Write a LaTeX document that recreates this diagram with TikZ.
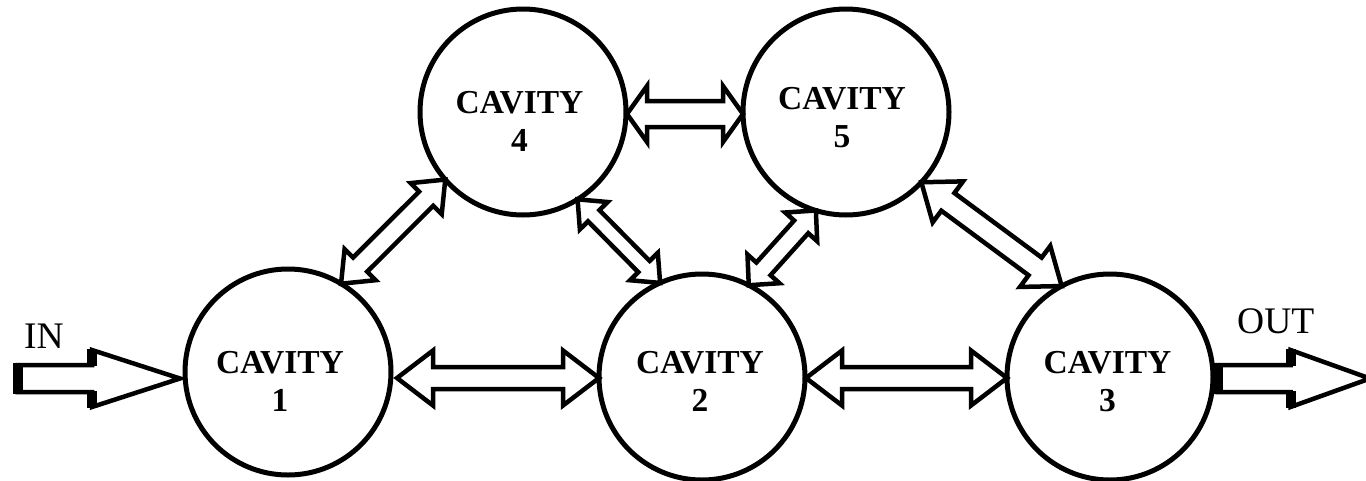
\documentclass[tikz,border=0pt]{standalone}
\usepackage{fontspec}
\setmainfont{Liberation Serif}
\usetikzlibrary{calc}
\tikzset{
  cav/.style={circle, draw, line width=5pt, minimum size=206pt, inner sep=0pt, outer sep=0pt},
  cavtext/.style={font=\bfseries\fontsize{33.5}{38}\selectfont, align=center, inner sep=0pt},
  iolabel/.style={font=\fontsize{37.5}{40}\selectfont, inner sep=0pt, anchor=base west},
  arrbody/.style={draw, fill=white, line width=4.5pt, line join=miter, miter limit=20},
  arrbar/.style={line width=10pt},
}
% #1,#2 tips; #3 shaft half-width; #4 head half-width; #5 head length
\newcommand\blockdbl[5]{%
  \draw[arrbody] (#1)
    -- ($(#1)!#5pt!(#2)!#4pt!90:(#2)$)
    -- ($(#1)!#5pt!(#2)!#3pt!90:(#2)$)
    -- ($(#2)!#5pt!(#1)!#3pt!-90:(#1)$)
    -- ($(#2)!#5pt!(#1)!#4pt!-90:(#1)$)
    -- (#2)
    -- ($(#2)!#5pt!(#1)!#4pt!90:(#1)$)
    -- ($(#2)!#5pt!(#1)!#3pt!90:(#1)$)
    -- ($(#1)!#5pt!(#2)!#3pt!-90:(#2)$)
    -- ($(#1)!#5pt!(#2)!#4pt!-90:(#2)$)
    -- cycle;}
% #1 tail, #2 tip
\newcommand\blocksingle[5]{%
  \draw[arrbody] ($(#1)!#3pt!90:(#2)$)
    -- ($(#2)!#5pt!(#1)!#3pt!-90:(#1)$)
    -- ($(#2)!#5pt!(#1)!#4pt!-90:(#1)$)
    -- (#2)
    -- ($(#2)!#5pt!(#1)!#4pt!90:(#1)$)
    -- ($(#2)!#5pt!(#1)!#3pt!90:(#1)$)
    -- ($(#1)!#3pt!-90:(#2)$)
    -- cycle;
  \draw[arrbar] ($(#1)!{#3pt+2pt}!90:(#2)$) -- ($(#1)!{#3pt+2pt}!-90:(#2)$);
  \draw[arrbar] ($(#2)!#5pt!(#1)!{#3pt-1pt}!90:(#1)$) -- ($(#2)!#5pt!(#1)!{#4pt+1pt}!90:(#1)$);
  \draw[arrbar] ($(#2)!#5pt!(#1)!{#3pt-1pt}!-90:(#1)$) -- ($(#2)!#5pt!(#1)!{#4pt+1pt}!-90:(#1)$);}
\begin{document}
\begin{tikzpicture}[x=1pt,y=-1pt]
\useasboundingbox[fill=white] (0,0) rectangle (1366,480);

% cavities
\node[cav] (c1) at (288,372) {};
\node[cav] (c2) at (702,377) {};
\node[cav] (c3) at (1110,377) {};
\node[cav] (c4) at (523,112) {};
\node[cav] (c5) at (846,112) {};

\node[cavtext] (t1) at (280,381.5) {CAVITY\\1};
\node[cavtext] (t2) at (700,381.5) {CAVITY\\2};
\node[cavtext] (t3) at (1107.5,381.5) {CAVITY\\3};
\node[cavtext] (t4) at (519.5,121.5) {CAVITY\\4};
\node[cavtext] (t5) at (842,117.5) {CAVITY\\5};

% horizontal couplings
\coordinate (a12s) at ($(c1.east |- c2.west)+(6,1)$);
\coordinate (a12e) at ($(c2.west)+(0,1)$);
\blockdbl{a12s}{a12e}{11}{27.5}{36}
\coordinate (a23s) at ($(c2.east)+(1,1)$);
\coordinate (a23e) at ($(c3.west)+(0,1)$);
\blockdbl{a23s}{a23e}{11}{27.5}{36}
\coordinate (a45s) at ($(c4.east)+(1,2)$);
\coordinate (a45e) at ($(c5.west)+(0,2)$);
\blockdbl{a45s}{a45e}{13}{28}{20}

% diagonal couplings
\blockdbl{c1.59}{c4.221}{10}{22}{27}
\blockdbl{c4.302}{c2.114}{8}{19.5}{23}
\blockdbl{c2.63}{c5.253}{9.5}{21.5}{22}
\blockdbl{c5.317}{c3.118}{11}{25.5}{33}

% input / output
\coordinate (in0) at (17.7,378.5);
\coordinate (in1) at ($(c1.west |- in0)+(-5,0)$);
\blocksingle{in0}{in1}{13.5}{28.5}{88}
\coordinate (out0) at ($(c3.east)+(4.5,1.5)$);
\coordinate (out1) at ($(out0)+(152.5,0)$);
\blocksingle{out0}{out1}{13.5}{28.5}{79.5}

\node[iolabel] (inlab) at (24,348) {IN};
\node[iolabel] (outlab) at (1237,333) {OUT};
\end{tikzpicture}
\end{document}
